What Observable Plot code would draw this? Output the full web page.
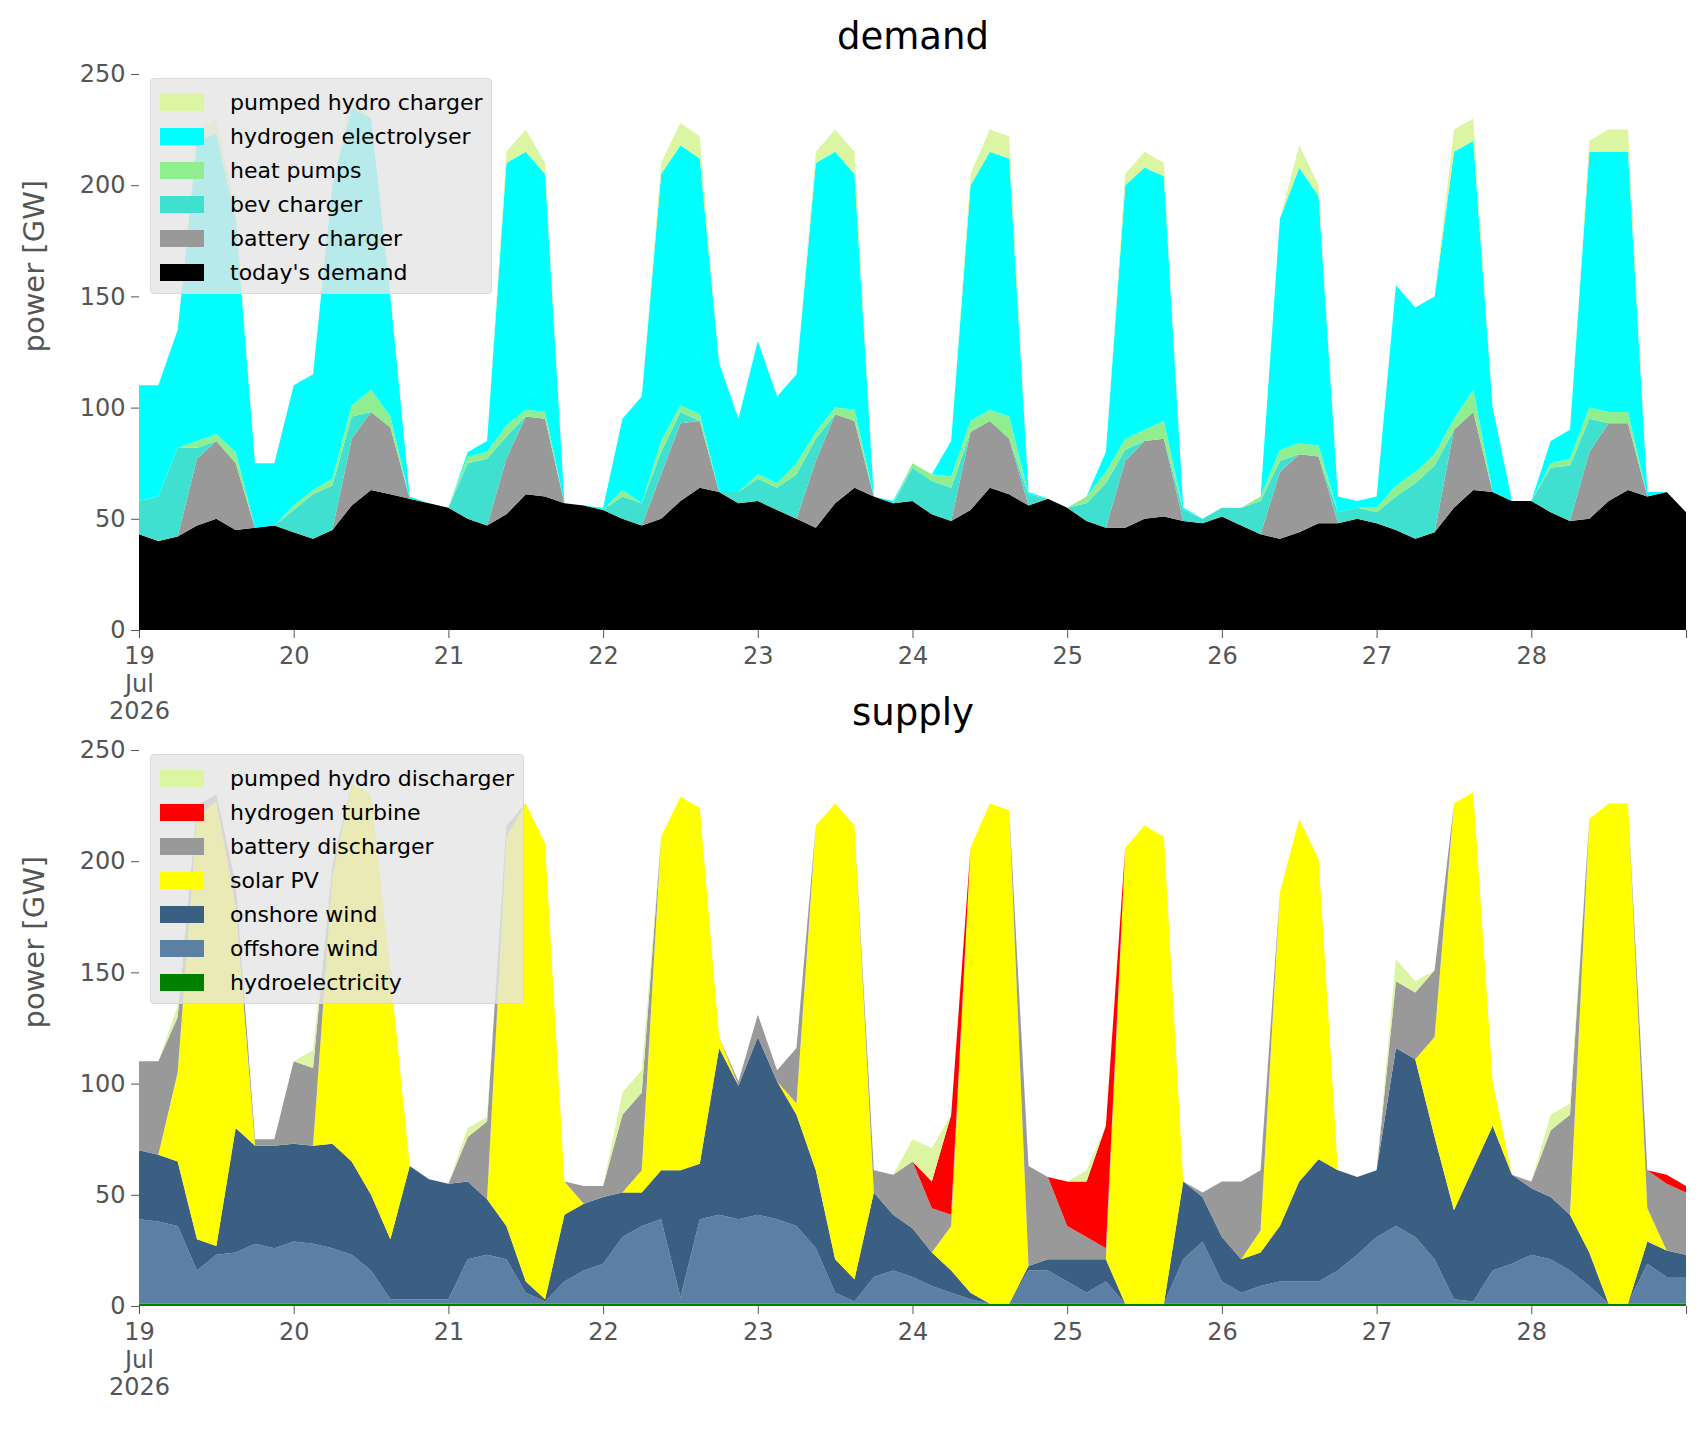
<!DOCTYPE html>
<html><head><meta charset="utf-8">
<script src="https://cdn.jsdelivr.net/npm/d3@7"></script>
<script src="https://cdn.jsdelivr.net/npm/@observablehq/plot@0.6"></script>
<style>
body{margin:0;background:#fff;font-family:"DejaVu Sans",sans-serif;}
#wrap{position:relative;width:1706px;height:1431px;overflow:hidden}
.title{position:absolute;text-align:center;font-size:37px;color:#000;line-height:1;left:0;width:1826px}
.panel{position:absolute;left:0}
.legend{position:absolute;background:rgba(229,229,229,0.8);border:1px solid #d8d8d8;border-radius:4px;padding:6px 9px 4px 9px;font-size:22px;color:#000}
.legend div{height:34px;display:flex;align-items:center}
.legend span.sw{display:inline-block;width:44px;height:17px;margin-right:26px}
</style></head><body><div id="wrap"></div>
<script>
// 3-hourly samples, Jul 19 00:00 .. Jul 29 00:00 (81 points)
const todaysDemand=[43,40,42,47,50,45,46,47, 44,41,45,56,63,61,59,57, 55,50,47,52,61,60,57,56, 54,50,47,50,58,64,62,57, 58,54,50,46,57,64,60,57, 58,52,49,54,64,61,56,59, 55,49,46,46,50,51,49,48, 51,47,43,41,44,48,48,50, 48,45,41,44,55,63,62,58, 58,53,49,50,58,63,60,62,53];
const batteryCharger=[0,0,0,30,35,30,0,0, 0,0,0,30,35,30,0,0, 0,0,0,25,35,35,0,0, 0,0,0,20,35,30,0,0, 0,0,0,30,40,30,0,0, 0,0,0,35,30,25,0,0, 0,0,0,30,35,35,0,0, 0,0,0,30,35,30,0,0, 0,0,0,0,35,35,0,0, 0,0,0,30,35,30,0,0,0];
const bevCharger=[15,20,40,5,0,0,0,0, 10,20,20,10,0,0,0,0, 0,25,30,10,0,0,0,0, 0,10,10,10,5,0,0,5, 10,10,20,10,0,0,0,0, 15,15,15,0,0,0,5,0, 0,8,20,5,0,0,5,2, 4,8,15,5,0,0,5,5, 5,15,25,30,0,0,0,0, 0,20,25,15,0,0,0,0,0];
const heatPumps=[0,0,0,3,3,5,0,0, 2,2,3,5,10,5,0,0, 0,3,3,5,3,3,0,0, 0,3,0,5,3,3,0,0, 2,2,5,3,3,5,0,0, 2,3,5,5,5,10,0,0, 0,3,5,5,5,8,0,0, 0,0,2,5,5,5,0,0, 2,5,5,5,5,10,0,0, 0,2,3,5,5,5,0,0,0];
const electrolyser=[52,50,53,135,135,105,29,28, 54,52,132,134,122,54,1,0, 0,2,5,118,116,107,0,0, 1,32,48,120,117,115,58,33, 60,39,40,121,115,106,0,1, 0,0,16,106,116,116,1,0, 0,0,9,114,118,110,1,0, 0,0,0,104,124,112,7,3, 5,90,74,71,120,112,38,0, 0,10,13,115,117,117,2,0,0];
const phCharger=[0,0,0,5,7,5,0,0, 0,0,0,5,0,0,0,0, 0,0,0,5,10,5,0,0, 0,0,0,5,10,10,0,0, 0,0,0,5,10,10,0,0, 0,0,0,5,10,10,0,0, 0,0,0,5,7,6,0,0, 0,0,0,0,10,5,0,0, 0,0,0,0,10,10,0,0, 0,0,0,5,10,10,0,0,0];

const hydro=[1,1,1,1,1,1,1,1, 1,1,1,1,1,1,1,1, 1,1,1,1,1,1,1,1, 1,1,1,1,1,1,1,1, 1,1,1,1,1,1,1,1, 1,1,1,1,1,1,1,1, 1,1,1,1,1,1,1,1, 1,1,1,1,1,1,1,1, 1,1,1,1,1,1,1,1, 1,1,1,1,1,1,1,1,1];
const offshore=[38,37,35,15,22,23,27,25, 28,27,25,22,15,2,2,2, 2,20,22,20,5,1,10,15, 18,30,35,38,3,38,40,38, 40,38,35,25,5,1,12,15, 12,8,5,2,0,0,15,15, 10,5,10,0,0,0,20,28, 10,5,8,10,10,10,15,22, 30,35,30,20,2,1,15,18, 22,20,15,8,0,0,18,12,12];
const onshore=[31,30,29,14,4,56,44,46, 44,44,47,42,34,27,60,54, 52,35,25,15,5,1,30,30, 30,20,15,22,57,25,75,60, 80,62,50,35,15,10,38,25, 22,15,10,3,0,0,2,5, 10,15,10,0,0,0,35,20, 20,15,15,25,45,55,45,35, 30,80,80,55,40,60,65,40, 30,28,25,15,0,0,10,12,10];
const solar=[0,0,40,190,200,100,0,0, 0,0,120,170,180,120,0,0, 0,0,0,175,215,205,15,0, 0,0,10,150,168,160,5,0, 0,0,5,155,205,204,0,0, 0,0,20,200,225,222,0,0, 0,0,0,205,215,210,0,0, 0,0,10,150,163,135,0,0, 0,0,0,45,183,169,20,0, 0,0,0,195,225,225,15,0,0];
const batteryDis=[40,42,25,5,3,10,3,3, 37,35,5,0,0,0,0,0, 0,20,35,5,0,0,0,8, 5,35,35,0,0,0,0,2, 10,5,25,0,0,0,10,18, 30,20,5,0,0,0,45,37, 15,10,5,0,0,0,0,2, 25,35,27,0,0,0,0,0, 0,30,30,30,0,0,0,0, 3,30,45,0,0,0,17,30,28];
const h2Turbine=[0,0,0,0,0,0,0,0, 0,0,0,0,0,0,0,0, 0,0,0,0,0,0,0,0, 0,0,0,0,0,0,0,0, 0,0,0,0,0,0,0,0, 0,12,45,0,0,0,0,0, 20,25,55,0,0,0,0,0, 0,0,0,0,0,0,0,0, 0,0,0,0,0,0,0,0, 0,0,0,0,0,0,0,4,3];
const phDischarger=[0,0,5,0,0,0,0,0, 0,8,2,0,0,0,0,0, 0,4,2,0,0,0,0,0, 0,10,10,0,0,0,0,0, 0,0,0,0,0,0,0,0, 10,15,0,0,0,0,0,0, 0,5,0,0,0,0,0,0, 0,0,0,0,0,0,0,0, 0,10,5,0,0,0,0,0, 0,7,5,0,0,0,0,0,0];

const start=Date.UTC(2026,6,19);
const times=todaysDemand.map((_,i)=>new Date(start+i*3*3600e3));

const demandSeries=[["today's demand",todaysDemand,"#000000"],["battery charger",batteryCharger,"#999999"],["bev charger",bevCharger,"#40e0d0"],["heat pumps",heatPumps,"#90ee90"],["hydrogen electrolyser",electrolyser,"#00ffff"],["pumped hydro charger",phCharger,"#dbf5a3"]];
const supplySeries=[["hydroelectricity",hydro,"#008000"],["offshore wind",offshore,"#5b80a3"],["onshore wind",onshore,"#3a5f82"],["solar PV",solar,"#ffff00"],["battery discharger",batteryDis,"#999999"],["hydrogen turbine",h2Turbine,"#ff0000"],["pumped hydro discharger",phDischarger,"#dbf5a3"]];

const wrap=document.getElementById("wrap");
function panel(series,top,title){
  const t=document.createElement("div");t.className="title";t.style.top=(top-56)+"px";t.textContent=title;wrap.appendChild(t);
  const data=series.flatMap(([name,vals])=>vals.map((v,i)=>({t:times[i],v,name})));
  const names=series.map(s=>s[0]);
  const svg=Plot.plot({
    width:1706,height:676,marginLeft:139,marginRight:20,marginTop:20,marginBottom:100,
    style:{fontFamily:"DejaVu Sans",fontSize:"24px",color:"#555",background:"transparent"},
    x:{type:"utc",domain:[new Date(start),new Date(start+10*86400e3)]},
    y:{domain:[0,250]},
    color:{domain:names,range:series.map(s=>s[2])},
    marks:[
      Plot.areaY(data,{x:"t",y:"v",fill:"name",order:names,curve:"linear"}),
      Plot.axisY({ticks:[0,50,100,150,200,250],tickSize:8,tickPadding:6,label:null,fontSize:24}),
      Plot.axisX({ticks:d3.utcDay.every(1),tickSize:8,tickPadding:6,label:null,fontSize:24,lineHeight:1.15,
        tickFormat:d=>{const s=String(d.getUTCDate());return +d===start?s+"\nJul\n2026":(d.getUTCDate()===29?"":s);}}),
      Plot.text(["power [GW]"],{frameAnchor:"left",dx:-105,rotate:-90,fontSize:29,fill:"#555"})
    ]});
  const p=document.createElement("div");p.className="panel";p.style.top=(top-20)+"px";p.appendChild(svg);wrap.appendChild(p);
  const lg=document.createElement("div");lg.className="legend";lg.style.left="150px";lg.style.top=(top+4)+"px";
  [...series].reverse().forEach(([n,,c])=>{const r=document.createElement("div");r.innerHTML=`<span class="sw" style="background:${c}"></span>${n}`;lg.appendChild(r);});
  wrap.appendChild(lg);
}
panel(demandSeries,74,"demand");
panel(supplySeries,750,"supply");
</script></body></html>
